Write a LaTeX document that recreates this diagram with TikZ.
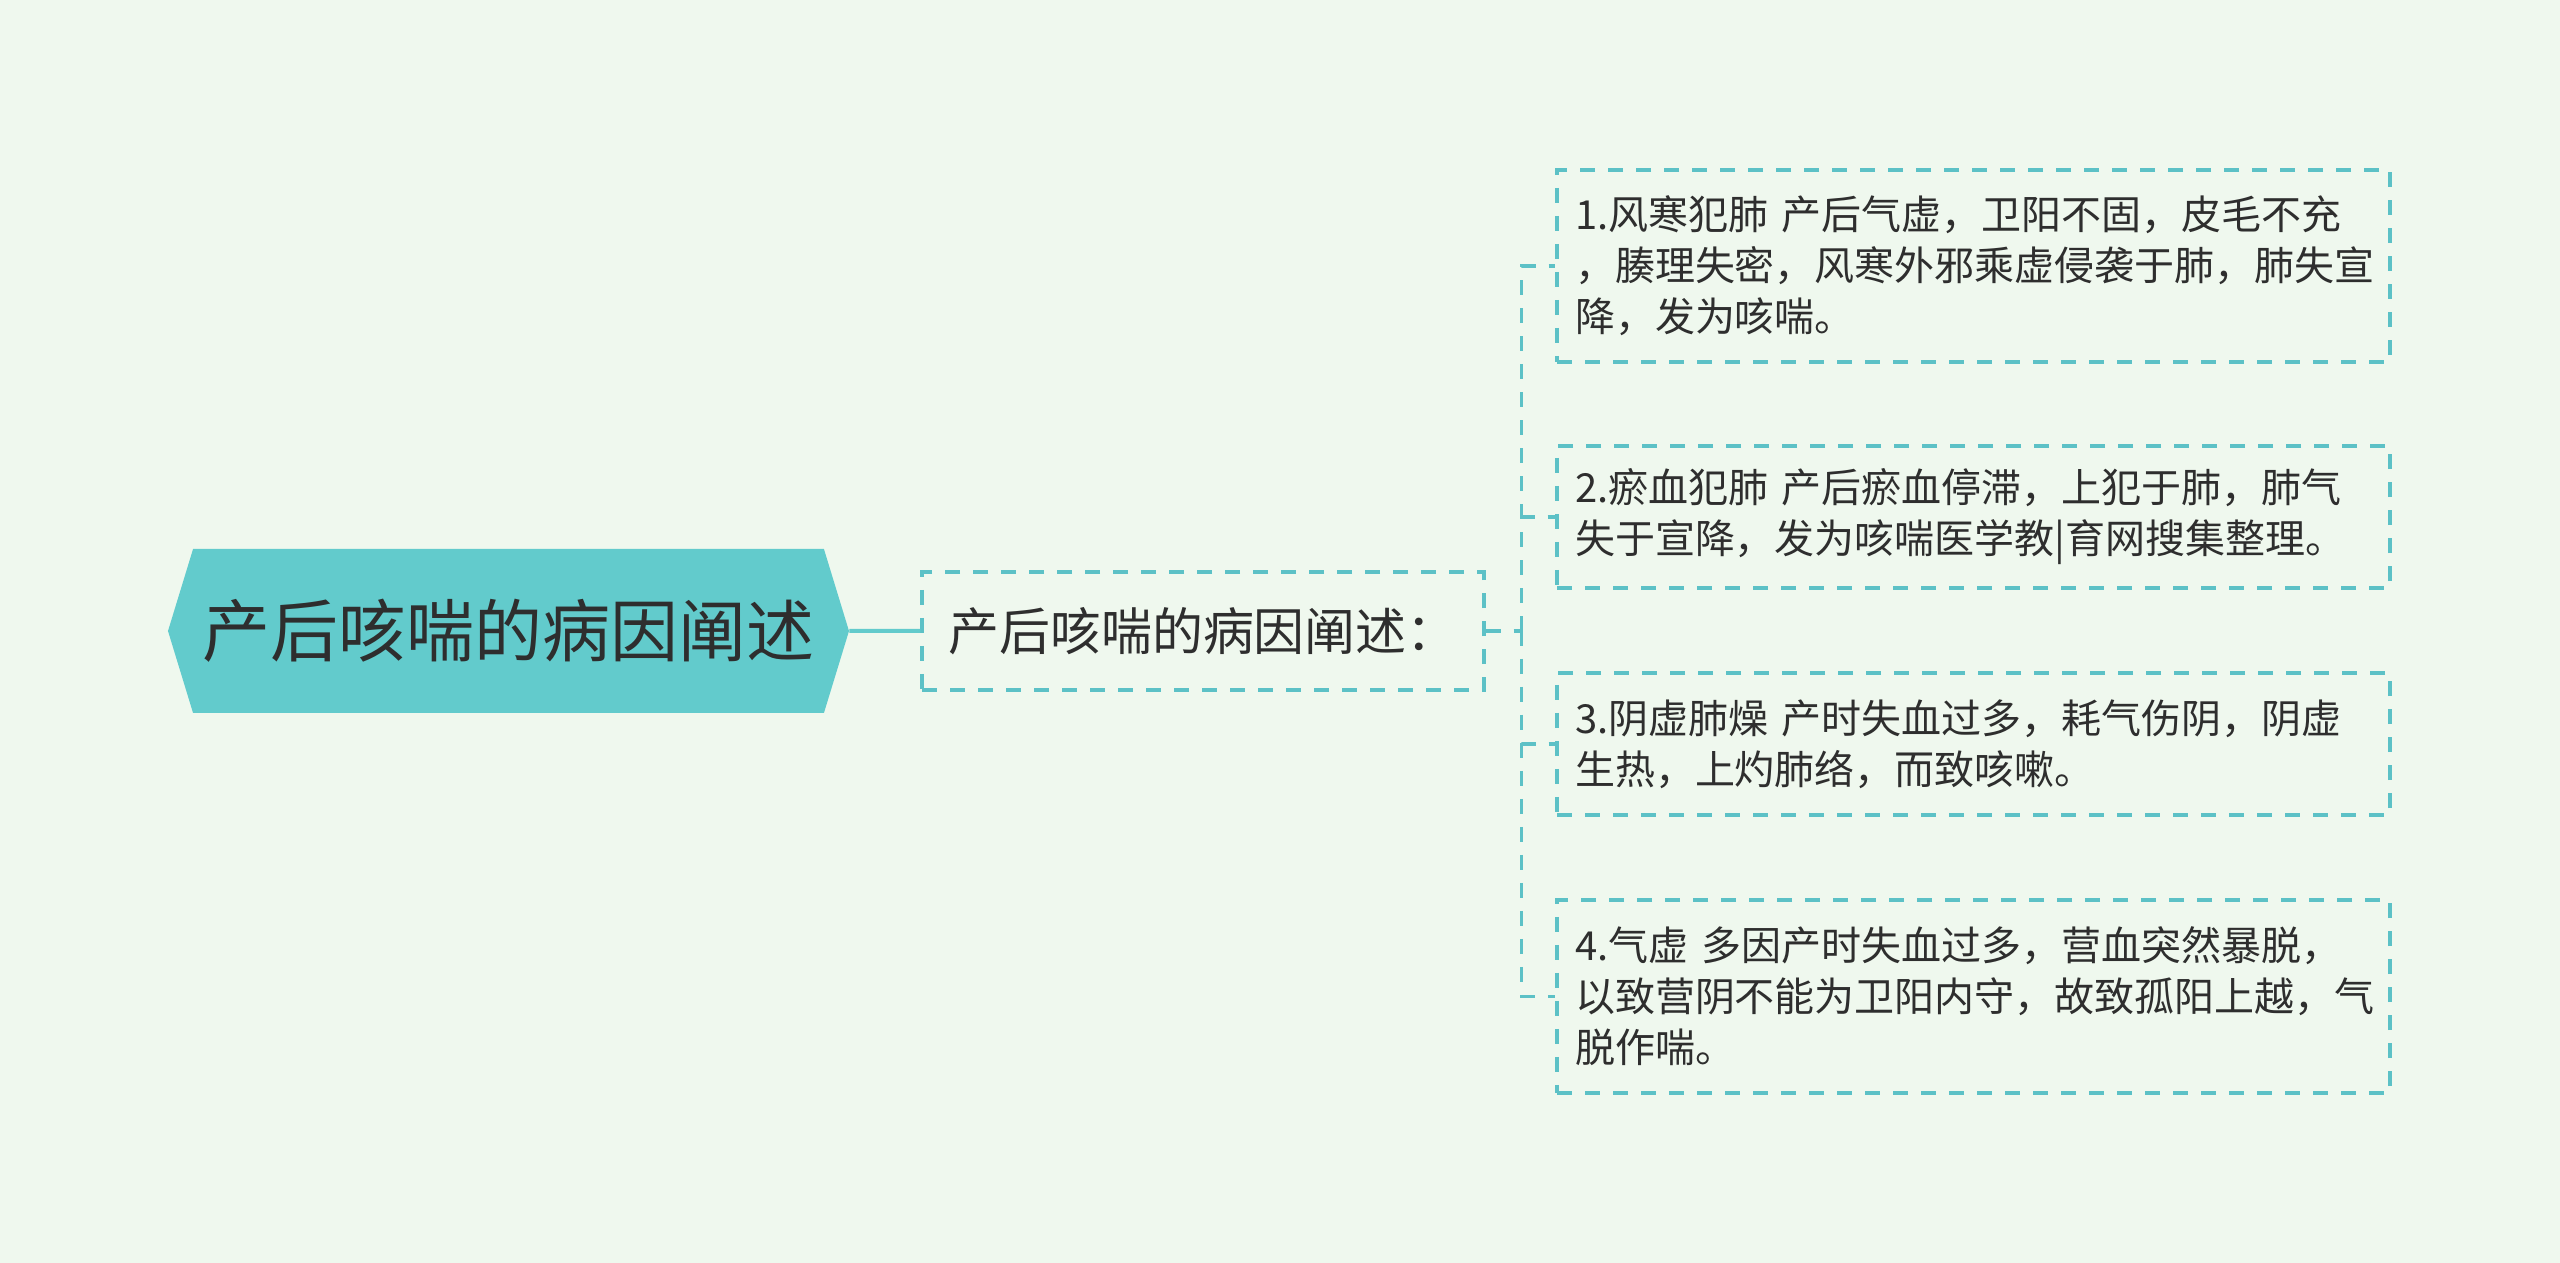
\documentclass[tikz,border=0pt]{standalone}
\usepackage{fontspec}
\setmainfont{Noto Sans CJK SC}
\usetikzlibrary{shapes.symbols}
\definecolor{bgmint}{HTML}{EFF8EE}
\definecolor{tealfill}{HTML}{62CBCC}
\definecolor{tealline}{HTML}{5CC1C6}
\definecolor{inkgray}{HTML}{2E2E2E}
\tikzstyle{hexa} = [shape=signal,signal to=west and east,signal pointer angle=146,fill=tealfill,text=inkgray,inner sep=0pt,minimum width=13.62cm,minimum height=3.28cm,font=\fontsize{38.7pt}{46pt}\selectfont]
\tikzstyle{midbox} = [rectangle,draw=tealline,line width=0.065cm,dash pattern=on 0.3cm off 0.26cm,text=inkgray,text centered,font=\fontsize{29pt}{35pt}\selectfont]
\tikzstyle{leaf} = [rectangle,draw=tealline,line width=0.065cm,dash pattern=on 0.3cm off 0.26cm,text=inkgray,align=left,text width=15.94cm,inner xsep=0.36cm,font=\fontsize{22.76pt}{29pt}\selectfont]
\tikzstyle{trunk} = [draw=tealfill,line width=0.08cm]
\tikzstyle{twig} = [draw=tealline,line width=0.065cm,dash pattern=on 0.3cm off 0.26cm]

\begin{document}
\begin{tikzpicture}

    	\fill[bgmint] (-10.17,12.62) rectangle (41.03,-12.64);
    	\useasboundingbox (-10.17,12.62) rectangle (41.03,-12.64);

    	\node[hexa](cause) {产后咳喘的病因阐述};
    	\node[midbox,minimum width=11.24cm,minimum height=2.36cm,xshift=12.89cm,right of=cause](summary) {产后咳喘的病因阐述：};
    	\node[leaf,minimum height=3.84cm,xshift=14.41cm,yshift=7.30cm,right of=summary](wind) {1.风寒犯肺 产后气虚，卫阳不固，皮毛不充\\，腠理失密，风寒外邪乘虚侵袭于肺，肺失宣\\降，发为咳喘。};
    	\node[leaf,minimum height=2.84cm,yshift=-4.02cm,below of=wind](blood) {2.瘀血犯肺 产后瘀血停滞，上犯于肺，肺气\\失于宣降，发为咳喘医学教|育网搜集整理。};
    	\node[leaf,minimum height=2.84cm,yshift=-3.54cm,below of=blood](yin) {3.阴虚肺燥 产时失血过多，耗气伤阴，阴虚\\生热，上灼肺络，而致咳嗽。};
    	\node[leaf,minimum height=3.86cm,yshift=-4.05cm,below of=yin](qi) {4.气虚 多因产时失血过多，营血突然暴脱，\\以致营阴不能为卫阳内守，故致孤阳上越，气\\脱作喘。};

    	\coordinate (fork) at ([xshift=0.72cm]summary.east);

		\draw[trunk] (cause) -- (summary);
    	\draw[twig] (summary.east) -- (fork);
    	\draw[twig] (fork) |- (wind.west);
    	\draw[twig] (fork) |- (blood.west);
    	\draw[twig] (fork) |- (yin.west);
    	\draw[twig] (fork) |- (qi.west);

\end{tikzpicture}
\end{document}
